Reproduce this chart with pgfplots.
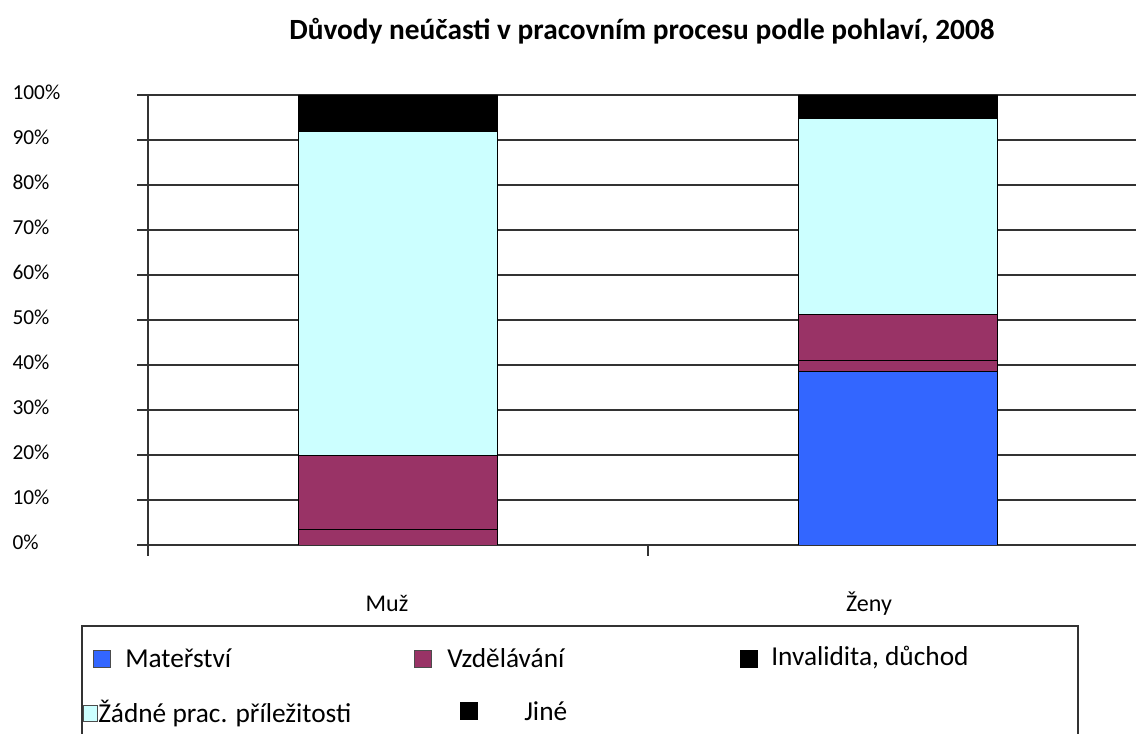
\documentclass[border=0pt]{standalone}
\usepackage{pgfplots}
\pgfplotsset{compat=1.18}
\usepackage{fontspec}
\setmainfont{Carlito}
\definecolor{cBlue}{HTML}{3366FF}
\definecolor{cMaroon}{HTML}{993366}
\definecolor{cCyan}{HTML}{CCFFFF}
\newcommand{\tf}{\fontsize{16}{19}\selectfont}
\newcommand{\cf}{\fontsize{18}{21}\selectfont}
\newcommand{\lf}{\fontsize{20.5}{24}\selectfont}
\begin{document}
\begin{tikzpicture}
\useasboundingbox (0pt,0pt) rectangle (852pt,550.5pt);
\clip (0pt,0pt) rectangle (852pt,550.5pt);
\begin{axis}[
  at={(111pt,141.75pt)}, anchor=south west,
  scale only axis, width=750pt, height=337.5pt,
  xmin=0, xmax=2, ymin=0, ymax=100,
  ybar stacked, bar width=149.25pt,
  axis x line*=bottom, axis y line*=left,
  axis line style={-, black!80, line width=0.9pt},
  ymajorgrids, grid style={black!80, line width=0.9pt},
  ytick={0,10,...,100},
  yticklabels={0\%,10\%,20\%,30\%,40\%,50\%,60\%,70\%,80\%,90\%,100\%},
  yticklabel style={font=\tf, anchor=west, xshift=-93.75pt, yshift=2pt, inner sep=0pt},
  ytick style={black!80, line width=0.9pt},
  tick align=outside, major tick length=8pt,
  xtick={0.478,1.442},
  xticklabels={Muž,Ženy},
  xtick style={draw=none},
  xticklabel style={font=\cf, anchor=center, yshift=-36pt},
  extra x ticks={0,1,2},
  extra x tick labels={},
  extra x tick style={xtick style={draw=black!80, line width=0.9pt}, major tick length=8pt, tick align=outside},
  every axis plot/.append style={draw=black, line width=0.6pt},
]
\addplot[fill=cBlue] coordinates {(0.5,0) (1.5,38.5)};
\addplot[fill=cMaroon] coordinates {(0.5,3.5) (1.5,2.5)};
\addplot[fill=cMaroon] coordinates {(0.5,16.3) (1.5,10.2)};
\addplot[fill=cCyan] coordinates {(0.5,72.0) (1.5,43.6)};
\addplot[fill=black] coordinates {(0.5,8.2) (1.5,5.2)};
\end{axis}
\begin{scope}[x=0.75pt,y=0.75pt]
\node[font=\fontsize{22}{26}\selectfont\bfseries] at (642,703) {Důvody neúčasti v pracovním procesu podle pohlaví, 2008};
% legend
\draw[black!80, line width=0.9pt] (82,108) rectangle (1078,-50);
\filldraw[fill=cBlue, draw=black!70, line width=0.5pt] (93,84) rectangle (110,67);
\node[font=\lf, anchor=west, inner sep=0pt] at (125,76) {Mateřství};
\filldraw[fill=cMaroon, draw=black!70, line width=0.5pt] (414,84) rectangle (431,67);
\node[font=\lf, anchor=west, inner sep=0pt] at (447,76) {Vzdělávání};
\filldraw[fill=black, draw=black, line width=0.5pt] (740,84) rectangle (757,67);
\node[font=\lf, anchor=west, inner sep=0pt] at (771,76) {Invalidita, důchod};
\filldraw[fill=cCyan, draw=black!70, line width=0.5pt] (83,29) rectangle (97,13);
\node[font=\lf, anchor=west, inner sep=0pt] at (98,20) {Žádné prac. příležitosti};
\filldraw[fill=black, draw=black, line width=0.5pt] (460,32) rectangle (477,15);
\node[font=\lf, anchor=west, inner sep=0pt] at (524,23) {Jiné};
\end{scope}
\end{tikzpicture}
\end{document}
